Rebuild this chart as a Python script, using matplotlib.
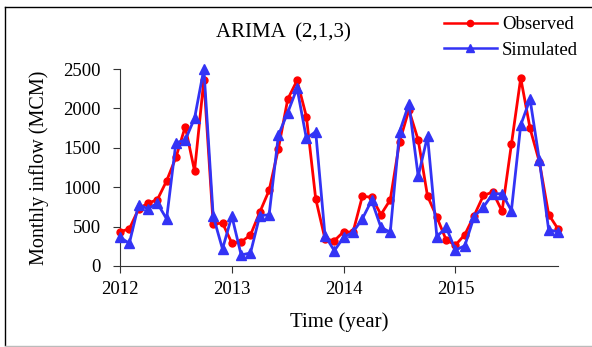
import matplotlib
matplotlib.use("Agg")
import matplotlib.pyplot as plt
from matplotlib.lines import Line2D

plt.rcParams['font.family'] = ['Liberation Serif', 'DejaVu Serif']

# monthly values, Jan 2012 .. Dec 2015
observed = [436, 470, 725, 798, 840, 1080, 1377, 1768, 1206, 2364, 533, 545,
            292, 305, 393, 683, 960, 1491, 2117, 2355, 1896, 853, 343, 321,
            436, 428, 883, 874, 653, 840, 1577, 1981, 1598, 887, 619, 330,
            266, 398, 640, 896, 938, 696, 1543, 2385, 1747, 1321, 653, 470]
simulated = [365, 287, 780, 725, 798, 598, 1564, 1598, 1874, 2500, 634, 216,
             634, 140, 165, 640, 649, 1662, 1947, 2257, 1619, 1704, 385, 194,
             364, 428, 598, 832, 491, 428, 1704, 2057, 1138, 1649, 372, 491,
             202, 257, 628, 747, 917, 917, 704, 1789, 2117, 1343, 457, 436]
years = [2012, 2013, 2014, 2015]
yticks = [0, 500, 1000, 1500, 2000, 2500]

t = [2012 + i / 12 for i in range(len(observed))]

red = '#FF0000'
blue = '#3333F5'

fig = plt.figure(figsize=(5.92, 3.47), dpi=100)
ax = fig.add_axes([120/592, 1 - 266/347, (558 - 120)/592, (266 - 69)/347])

ax.plot(t, observed, '-o', color=red, lw=2, ms=5, clip_on=False, zorder=3)
ax.plot(t, simulated, '-^', color=blue, lw=2, ms=6.5, clip_on=False, zorder=4)

ax.set_xlim(2012, t[-1])
ax.set_ylim(0, 2500)
ax.set_xticks(years)
ax.set_yticks(yticks)
ax.spines['top'].set_visible(False)
ax.spines['right'].set_visible(False)
for s in ['left', 'bottom']:
    ax.spines[s].set_color('#333333')
ax.tick_params(labelsize=13.5, direction='out', length=5, color='#333333')
ax.tick_params(axis='x', pad=6)
ax.tick_params(axis='y', pad=9)

ax.set_xlabel('Time (year)', fontsize=15, labelpad=10)
ax.set_ylabel('Monthly inflow (MCM)', fontsize=14.5, labelpad=10)

fig.text(283/592, 1 - 33/347, 'ARIMA  (2,1,3)', fontsize=15,
         ha='center', va='center')

handles = [Line2D([], [], color=red, marker='o', lw=1.8, ms=4.5),
           Line2D([], [], color=blue, marker='^', lw=1.8, ms=5.5)]
fig.legend(handles, ['Observed', 'Simulated'], loc='upper left',
           bbox_to_anchor=(444/592, 1 - 16/347), frameon=False,
           fontsize=13.5, handlelength=2.8, handletextpad=0.3,
           labelspacing=0.45, borderaxespad=0, borderpad=0)

# outer frame
fig.add_artist(Line2D([5/592, 5/592], [2/347, 1 - 7/347], color='black', lw=1))
fig.add_artist(Line2D([5/592, 1], [1 - 7/347, 1 - 7/347], color='black', lw=1))
fig.add_artist(Line2D([5/592, 1], [1/347, 1/347], color='#BBBBBB', lw=1))

fig.savefig('out.png', dpi=100)
